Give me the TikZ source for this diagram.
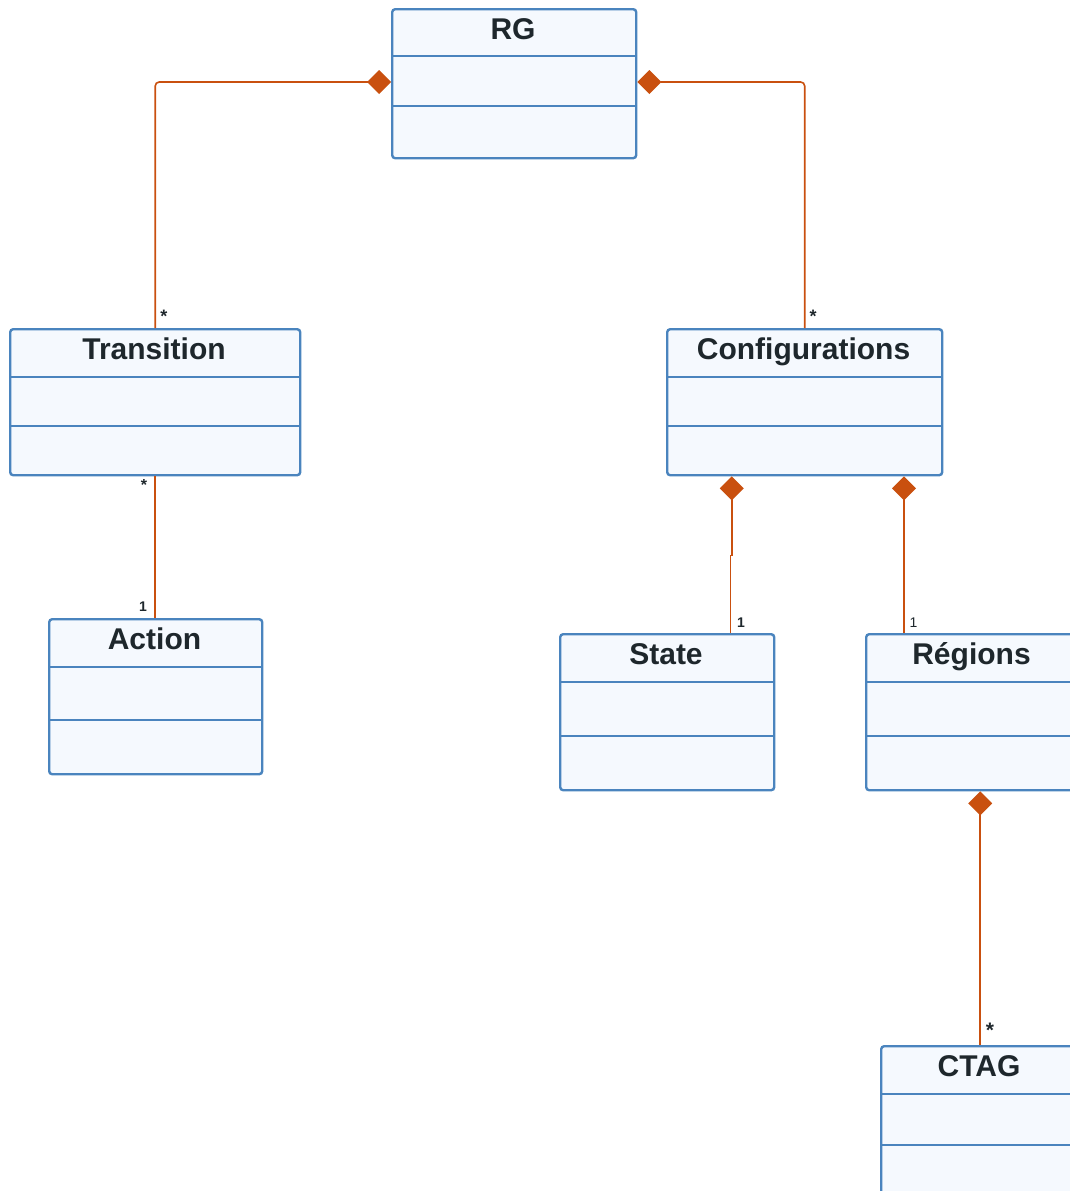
\documentclass[tikz,border=0pt]{standalone}
\usepackage{fontspec}
\setmainfont{Liberation Sans}
\usetikzlibrary{arrows.meta}

\definecolor{classedge}{HTML}{4A84BE}
\definecolor{classfill}{HTML}{F5F9FE}
\definecolor{assoc}{HTML}{C9500F}
\definecolor{ink}{HTML}{1E272C}

\tikzset{
  classbox/.style={draw=classedge, fill=classfill, line width=2.4pt,
    rounded corners=3pt, inner sep=0pt, anchor=north west},
  divider/.style={draw=classedge, line width=2.2pt},
  classtitle/.style={font=\fontsize{30}{36}\selectfont\bfseries, text=ink,
    anchor=base, inner sep=0pt},
  link/.style={draw=assoc, line width=1.6pt, rounded corners=4pt},
  compose/.style={link, {Diamond[length=24pt,width=24pt]}-},
  mult/.style={font=\fontsize{14}{16}\selectfont\bfseries, text=ink,
    inner sep=0pt, anchor=base},
  star/.style={mult, font=\fontsize{18}{20}\selectfont\bfseries},
}

% class box: name, x1, y1, x2, y2, divider 1, divider 2, title
\newcommand\umlclass[8]{%
  \node[classbox, minimum width={#4pt-#2pt}, minimum height={#5pt-#3pt}]
    (#1) at (#2,#3) {};
  \draw[divider] (#1.west |- 0,#6) -- (#1.east |- 0,#6);
  \draw[divider] (#1.west |- 0,#7) -- (#1.east |- 0,#7);
  \node[classtitle] (#1-title) at ({(#2+#4)/2},{#3+31}) {#8};
}

\begin{document}
\begin{tikzpicture}[x=1pt, y=-1pt]
  \useasboundingbox (0,0) rectangle (1069,1191);

  % classes
  \umlclass{RG}{391}{8}{635}{157}{56}{106}{RG}
  \umlclass{Transition}{9}{328}{299}{474}{377}{426}{Transition}
  \umlclass{Configurations}{666}{328}{941}{474}{377}{426}{Configurations}
  \umlclass{Action}{48}{618}{261}{773}{667}{720}{Action}
  \umlclass{State}{559}{633}{773}{789}{682}{736}{State}
  \umlclass{Regions}{865}{633}{1078}{789}{682}{736}{Régions}
  \umlclass{CTAG}{880}{1045}{1078}{1198}{1094}{1145}{CTAG}

  % anchor columns for the vertical links
  \coordinate (rgrow) at (0,82);
  \coordinate (stateA) at (731.8,0);
  \coordinate (stateB) at (730.6,0);
  \coordinate (regcol) at (904,0);

  % compositions and associations
  \draw[compose] (RG.west |- rgrow) -| (Transition.north);
  \draw[compose] (RG.east |- rgrow) -| (Configurations.north);
  \draw[link] (Transition.south) -- (Transition.south |- Action.north);
  \draw[compose, rounded corners=0pt] (Configurations.south -| stateA)
    -- ++(0,79) -| (State.north -| stateB);
  \draw[compose] (Configurations.south -| regcol) -- (Regions.north -| regcol);
  \draw[compose] (Regions.south -| CTAG.north) -- (CTAG.north);

  % multiplicities
  \node[star] (m-tr) at (164,322) {*};
  \node[star] (m-cf) at (813,322) {*};
  \node[star, font=\fontsize{16}{18}\selectfont\bfseries] (m-tra) at (144,490) {*};
  \node[mult] (m-ac) at (143,611) {1};
  \node[mult] (m-st) at (741,627) {1};
  \node[mult, font=\fontsize{14}{16}\selectfont] (m-rg) at (913.5,627) {1};
  \node[star, font=\fontsize{21}{24}\selectfont\bfseries] (m-ct) at (990,1037) {*};
\end{tikzpicture}
\end{document}
